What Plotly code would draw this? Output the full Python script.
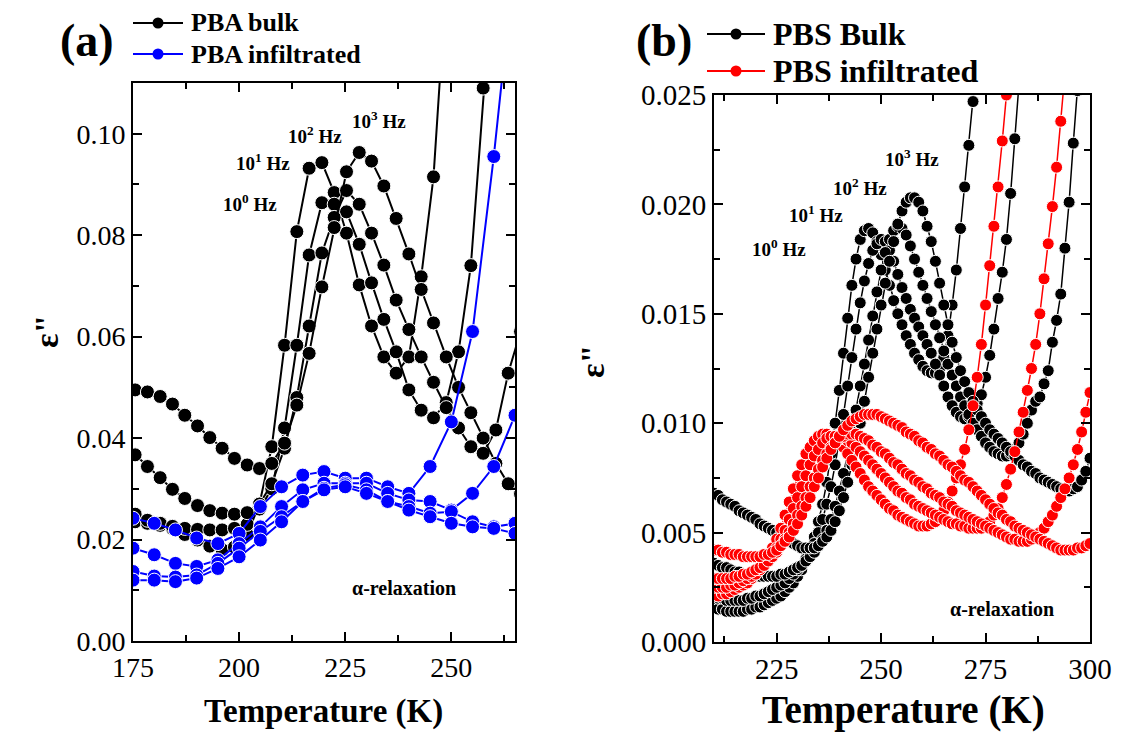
import plotly.graph_objects as go

# ---------------- Panel (a): PBA ----------------
T_a_bulk = [175.5, 178.4, 181.4, 184.3, 187.2, 190.2, 193.1, 196.0, 198.9, 201.9, 204.8, 207.7,
            210.7, 213.6, 216.5, 219.5, 222.4, 225.3, 228.3, 231.2, 234.1, 237.0, 240.0, 242.9,
            245.8, 248.8, 251.7, 254.6, 257.5, 260.5, 263.4, 266.3]
pba_bulk_1e0 = [0.0235, 0.0232, 0.0228, 0.0222, 0.0210, 0.0199, 0.0187, 0.0180, 0.0185, 0.0210, 0.0270, 0.0383,
                0.0583, 0.0807, 0.0932, 0.0943, 0.0884, 0.0804, 0.0702, 0.0621, 0.0560, 0.0528, 0.0560, 0.0718,
                0.0915, 0.1300]
pba_bulk_1e1 = [0.0250, 0.0238, 0.0232, 0.0226, 0.0222, 0.0220, 0.0219, 0.0219, 0.0222, 0.0230, 0.0260, 0.0300,
                0.0420, 0.0583, 0.0761, 0.0864, 0.0861, 0.0846, 0.0782, 0.0706, 0.0634, 0.0570, 0.0495, 0.0455,
                0.0440, 0.0470, 0.0570, 0.0740, 0.1090, 0.1400]
pba_bulk_1e2 = [0.0367, 0.0344, 0.0322, 0.0299, 0.0281, 0.0267, 0.0257, 0.0252, 0.0250, 0.0253, 0.0270, 0.0310,
                0.0380, 0.0480, 0.0621, 0.0765, 0.0835, 0.0888, 0.0861, 0.0804, 0.0741, 0.0672, 0.0614, 0.0560,
                0.0510, 0.0460, 0.0420, 0.0383, 0.0370, 0.0416, 0.0528, 0.0610]
pba_bulk_1e3 = [0.0495, 0.0491, 0.0482, 0.0467, 0.0445, 0.0424, 0.0401, 0.0380, 0.0360, 0.0347, 0.0340, 0.0350,
                0.0390, 0.0465, 0.0567, 0.0698, 0.0815, 0.0925, 0.0963, 0.0946, 0.0897, 0.0833, 0.0763, 0.0693,
                0.0627, 0.0560, 0.0500, 0.0450, 0.0400, 0.0350, 0.0310, 0.0290]

T_a_inf = [175, 180, 185, 190, 195, 200, 205, 210, 215, 220, 225, 230, 235, 240, 245, 250, 255, 260, 265]
pba_inf_1e0 = [0.0242, 0.0232, 0.0219, 0.0203, 0.0192, 0.0212, 0.0265, 0.0304, 0.0327, 0.0334, 0.0321, 0.0321,
               0.0304, 0.0291, 0.0344, 0.0432, 0.0610, 0.0955, 0.1350]
pba_inf_1e1 = [0.0183, 0.0170, 0.0153, 0.0147, 0.0160, 0.0192, 0.0225, 0.0265, 0.0298, 0.0311, 0.0311, 0.0311,
               0.0291, 0.0278, 0.0275, 0.0258, 0.0291, 0.0344, 0.0445]
pba_inf_1e2 = [0.0137, 0.0128, 0.0126, 0.0130, 0.0153, 0.0183, 0.0216, 0.0245, 0.0275, 0.0301, 0.0308, 0.0298,
               0.0275, 0.0265, 0.0252, 0.0255, 0.0235, 0.0225, 0.0232]
pba_inf_1e3 = [0.0120, 0.0120, 0.0117, 0.0124, 0.0143, 0.0166, 0.0199, 0.0235, 0.0275, 0.0298, 0.0304, 0.0291,
               0.0275, 0.0258, 0.0245, 0.0232, 0.0225, 0.0222, 0.0212]

# ---------------- Panel (b): PBS ----------------
T_b = [210, 211, 212, 213, 214, 215, 216, 217, 218, 219, 220, 221, 222, 223, 224, 225, 226, 227, 228, 229,
       230, 231, 232, 233, 234, 235, 236, 237, 238, 239, 240, 241, 242, 243, 244, 245, 246, 247, 248, 249,
       250, 251, 252, 253, 254, 255, 256, 257, 258, 259, 260, 261, 262, 263, 264, 265, 266, 267, 268, 269,
       270, 271, 272, 273, 274, 275, 276, 277, 278, 279, 280, 281, 282, 283, 284, 285, 286, 287, 288, 289,
       290, 291, 292, 293, 294, 295, 296, 297, 298, 299, 300]

pbs_bulk_1e0 = [0.0016, 0.0015, 0.0015, 0.0014, 0.0014, 0.0014, 0.0014, 0.0014, 0.0015, 0.0015,
                0.0016, 0.0016, 0.0017, 0.0018, 0.0019, 0.0020, 0.0021, 0.0023, 0.0025, 0.0027,
                0.0030, 0.0033, 0.0037, 0.0042, 0.0048, 0.0055, 0.0063, 0.0073, 0.0086, 0.0100,
                0.0115, 0.0132, 0.0148, 0.0163, 0.0175, 0.0184, 0.0188, 0.0189, 0.0187, 0.0183,
                0.0177, 0.0170, 0.0163, 0.0156, 0.0150, 0.0145, 0.0140, 0.0136, 0.0132, 0.0129,
                0.0126, 0.0124, 0.0123, 0.0123, 0.0125, 0.0130, 0.0140, 0.0154, 0.0170, 0.0189,
                0.0208, 0.0227, 0.0247, 0.0268]
pbs_bulk_1e1 = [0.0021, 0.0020, 0.0020, 0.0019, 0.0019, 0.0019, 0.0019, 0.0019, 0.0020, 0.0020,
                0.0021, 0.0021, 0.0022, 0.0023, 0.0024, 0.0025, 0.0026, 0.0027, 0.0029, 0.0031,
                0.0033, 0.0035, 0.0038, 0.0041, 0.0045, 0.0050, 0.0056, 0.0063, 0.0071, 0.0081,
                0.0092, 0.0104, 0.0117, 0.0130, 0.0143, 0.0155, 0.0165, 0.0173, 0.0179, 0.0182,
                0.0184, 0.0183, 0.0179, 0.0174, 0.0168, 0.0162, 0.0157, 0.0152, 0.0148, 0.0144,
                0.0140, 0.0136, 0.0132, 0.0127, 0.0122, 0.0117, 0.0112, 0.0108, 0.0105, 0.0103,
                0.0102, 0.0103, 0.0106, 0.0109, 0.0113, 0.0121, 0.0131, 0.0143, 0.0157, 0.0169,
                0.0184, 0.0205, 0.0230, 0.0255, 0.0280]
pbs_bulk_1e2 = [0.0036, 0.0035, 0.0034, 0.0034, 0.0033, 0.0032, 0.0032, 0.0031, 0.0031, 0.0030,
                0.0030, 0.0030, 0.0030, 0.0030, 0.0030, 0.0030, 0.0031, 0.0031, 0.0032, 0.0033,
                0.0034, 0.0035, 0.0037, 0.0039, 0.0041, 0.0044, 0.0047, 0.0051, 0.0056, 0.0062,
                0.0069, 0.0077, 0.0086, 0.0096, 0.0106, 0.0117, 0.0127, 0.0138, 0.0149, 0.0160,
                0.0170, 0.0178, 0.0184, 0.0188, 0.0190, 0.0189, 0.0186, 0.0181, 0.0175, 0.0169,
                0.0163, 0.0157, 0.0151, 0.0145, 0.0139, 0.0133, 0.0127, 0.0122, 0.0117, 0.0112,
                0.0108, 0.0104, 0.0100, 0.0097, 0.0094, 0.0091, 0.0089, 0.0087, 0.0086, 0.0085,
                0.0085, 0.0086, 0.0088, 0.0091, 0.0095, 0.0100, 0.0106, 0.0110, 0.0112, 0.0118,
                0.0124, 0.0137, 0.0147, 0.0159, 0.0180, 0.0201, 0.0228, 0.0252, 0.0278]
pbs_bulk_1e3 = [0.0068, 0.0067, 0.0065, 0.0064, 0.0063, 0.0062, 0.0060, 0.0059, 0.0058, 0.0057,
                0.0056, 0.0054, 0.0053, 0.0052, 0.0051, 0.0050, 0.0049, 0.0047, 0.0046, 0.0045,
                0.0044, 0.0043, 0.0043, 0.0043, 0.0043, 0.0044, 0.0046, 0.0048, 0.0051, 0.0055,
                0.0060, 0.0066, 0.0073, 0.0081, 0.0090, 0.0100, 0.0110, 0.0121, 0.0132, 0.0143,
                0.0154, 0.0164, 0.0174, 0.0183, 0.0191, 0.0197, 0.0201, 0.0203, 0.0203, 0.0201,
                0.0197, 0.0190, 0.0183, 0.0174, 0.0164, 0.0154, 0.0145, 0.0137, 0.0130, 0.0124,
                0.0119, 0.0114, 0.0110, 0.0106, 0.0103, 0.0100, 0.0097, 0.0095, 0.0093, 0.0091,
                0.0089, 0.0087, 0.0085, 0.0083, 0.0081, 0.0080, 0.0078, 0.0077, 0.0075, 0.0074,
                0.0073, 0.0072, 0.0071, 0.0070, 0.0069, 0.0069, 0.0070, 0.0071, 0.0074, 0.0078,
                0.0084]

pbs_inf_1e0 = [0.0021, 0.0021, 0.0022, 0.0022, 0.0023, 0.0024, 0.0025, 0.0026, 0.0027, 0.0029,
               0.0031, 0.0033, 0.0036, 0.0039, 0.0043, 0.0047, 0.0052, 0.0058, 0.0064, 0.0070,
               0.0076, 0.0081, 0.0086, 0.0089, 0.0092, 0.0094, 0.0095, 0.0095, 0.0094, 0.0093,
               0.0091, 0.0089, 0.0086, 0.0083, 0.0080, 0.0077, 0.0074, 0.0071, 0.0069, 0.0067,
               0.0065, 0.0063, 0.0061, 0.0060, 0.0058, 0.0057, 0.0056, 0.0055, 0.0054, 0.0053,
               0.0053, 0.0053, 0.0054, 0.0055, 0.0057, 0.0060, 0.0064, 0.0069, 0.0075, 0.0081,
               0.0088, 0.0097, 0.0108, 0.0121, 0.0136, 0.0154, 0.0172, 0.0190, 0.0208, 0.0229,
               0.0250, 0.0272]
pbs_inf_1e1 = [0.0025, 0.0025, 0.0025, 0.0025, 0.0026, 0.0026, 0.0027, 0.0028, 0.0029, 0.0030,
               0.0031, 0.0033, 0.0035, 0.0037, 0.0040, 0.0043, 0.0047, 0.0051, 0.0056, 0.0061,
               0.0066, 0.0071, 0.0076, 0.0081, 0.0085, 0.0088, 0.0091, 0.0093, 0.0094, 0.0094,
               0.0094, 0.0093, 0.0092, 0.0091, 0.0089, 0.0087, 0.0085, 0.0083, 0.0081, 0.0079,
               0.0077, 0.0075, 0.0073, 0.0071, 0.0069, 0.0068, 0.0066, 0.0065, 0.0063, 0.0062,
               0.0061, 0.0060, 0.0059, 0.0058, 0.0057, 0.0056, 0.0055, 0.0054, 0.0054, 0.0053,
               0.0053, 0.0052, 0.0052, 0.0052, 0.0052, 0.0053, 0.0055, 0.0058, 0.0061, 0.0066,
               0.0072, 0.0079, 0.0087, 0.0096, 0.0105, 0.0115, 0.0125, 0.0136, 0.0150, 0.0166,
               0.0182, 0.0199, 0.0217, 0.0238, 0.0260]
pbs_inf_1e2 = [0.0029, 0.0029, 0.0029, 0.0029, 0.0029, 0.0030, 0.0030, 0.0031, 0.0031, 0.0032,
               0.0033, 0.0034, 0.0035, 0.0037, 0.0039, 0.0041, 0.0044, 0.0047, 0.0050, 0.0054,
               0.0058, 0.0062, 0.0066, 0.0071, 0.0075, 0.0079, 0.0083, 0.0086, 0.0089, 0.0091,
               0.0093, 0.0094, 0.0095, 0.0095, 0.0095, 0.0094, 0.0093, 0.0092, 0.0090, 0.0089,
               0.0087, 0.0086, 0.0084, 0.0082, 0.0081, 0.0079, 0.0077, 0.0076, 0.0074, 0.0073,
               0.0071, 0.0070, 0.0068, 0.0067, 0.0066, 0.0064, 0.0063, 0.0062, 0.0060, 0.0059,
               0.0058, 0.0057, 0.0056, 0.0055, 0.0054, 0.0053, 0.0052, 0.0051, 0.0050, 0.0049,
               0.0048, 0.0047, 0.0047, 0.0046, 0.0046, 0.0046, 0.0047, 0.0048, 0.0050, 0.0052,
               0.0055, 0.0058, 0.0062, 0.0066, 0.0070, 0.0075, 0.0081, 0.0088, 0.0096, 0.0105,
               0.0114]
pbs_inf_1e3 = [0.0042, 0.0042, 0.0041, 0.0041, 0.0040, 0.0040, 0.0040, 0.0039, 0.0039, 0.0039,
               0.0039, 0.0039, 0.0040, 0.0040, 0.0041, 0.0042, 0.0044, 0.0046, 0.0048, 0.0051,
               0.0054, 0.0058, 0.0062, 0.0066, 0.0071, 0.0075, 0.0080, 0.0084, 0.0088, 0.0091,
               0.0094, 0.0097, 0.0099, 0.0101, 0.0102, 0.0103, 0.0104, 0.0104, 0.0104, 0.0104,
               0.0103, 0.0102, 0.0101, 0.0100, 0.0099, 0.0098, 0.0096, 0.0095, 0.0094, 0.0092,
               0.0091, 0.0089, 0.0088, 0.0086, 0.0085, 0.0083, 0.0081, 0.0080, 0.0078, 0.0076,
               0.0074, 0.0073, 0.0071, 0.0069, 0.0067, 0.0065, 0.0063, 0.0061, 0.0059, 0.0058,
               0.0056, 0.0055, 0.0053, 0.0052, 0.0051, 0.0050, 0.0049, 0.0048, 0.0047, 0.0046,
               0.0045, 0.0044, 0.0043, 0.0042, 0.0042, 0.0042, 0.0042, 0.0043, 0.0043, 0.0044,
               0.0045]

freq_labels = ["10<sup>0</sup> Hz", "10<sup>1</sup> Hz", "10<sup>2</sup> Hz", "10<sup>3</sup> Hz"]

FONT = "Liberation Serif, Times New Roman, serif"
# the page body has an 8 px margin; the figure is sized so the page fits the window exactly
OFF = 8
W, H = 1121 - 2 * OFF, 740 - 2 * OFF

fig = go.Figure()


def add(x, y, color, xa, ya, size, lw):
    fig.add_trace(go.Scatter(
        x=x[:len(y)], y=y, mode="lines+markers", xaxis=xa, yaxis=ya,
        line=dict(color=color, width=lw),
        marker=dict(symbol="circle", size=size, color=color, line=dict(color="white", width=1)),
        showlegend=False, cliponaxis=True, hoverinfo="skip"))


for s in [pba_bulk_1e0, pba_bulk_1e1, pba_bulk_1e2, pba_bulk_1e3]:
    add(T_a_bulk, s, "black", "x", "y", 14, 2)
for s in [pba_inf_1e0, pba_inf_1e1, pba_inf_1e2, pba_inf_1e3]:
    add(T_a_inf, s, "#0000ff", "x", "y", 14, 2)
for s in [pbs_bulk_1e0, pbs_bulk_1e1, pbs_bulk_1e2, pbs_bulk_1e3]:
    add(T_b, s, "black", "x2", "y2", 12, 1.5)
for s in [pbs_inf_1e0, pbs_inf_1e1, pbs_inf_1e2, pbs_inf_1e3]:
    add(T_b, s, "#ff0000", "x2", "y2", 12, 1.5)


def px_x(p):
    return (p - OFF) / W


def px_y(p):
    return 1 - (p - OFF) / H


def axis_common(fs):
    return dict(showgrid=False, zeroline=False, showline=True, linecolor="black", linewidth=2,
                mirror="allticks", ticks="inside", ticklen=9, tickwidth=2, tickcolor="black",
                automargin=False,
                tickfont=dict(family=FONT, size=fs, color="black"))


fig.update_layout(
    template="none",
    width=W, height=H, margin=dict(l=0, r=0, t=0, b=0, autoexpand=False),
    paper_bgcolor="white", plot_bgcolor="white", showlegend=False,
    xaxis=dict(domain=[px_x(133), px_x(515)], range=[175, 265], anchor="y",
               tickvals=[175, 200, 225, 250],
               minor=dict(tickvals=[187.5, 212.5, 237.5, 262.5], ticks="inside", ticklen=6,
                          tickwidth=2, tickcolor="black"),
               **axis_common(28)),
    yaxis=dict(domain=[px_y(641), px_y(83)], range=[0, 0.11], anchor="x",
               tickvals=[0, 0.02, 0.04, 0.06, 0.08, 0.10], tickformat=".2f",
               minor=dict(tickvals=[0.01, 0.03, 0.05, 0.07, 0.09], ticks="inside", ticklen=6,
                          tickwidth=2, tickcolor="black"),
               **axis_common(28)),
    xaxis2=dict(domain=[px_x(714), px_x(1090)], range=[210, 300], anchor="y2",
                tickvals=[225, 250, 275, 300],
                minor=dict(tickvals=[212.5, 237.5, 262.5, 287.5], ticks="inside", ticklen=6,
                           tickwidth=2, tickcolor="black"),
                **axis_common(29)),
    yaxis2=dict(domain=[px_y(642), px_y(95)], range=[0, 0.025], anchor="x2",
                tickvals=[0, 0.005, 0.010, 0.015, 0.020, 0.025], tickformat=".3f",
                minor=dict(tickvals=[0.0025, 0.0075, 0.0125, 0.0175, 0.0225], ticks="inside",
                           ticklen=6, tickwidth=2, tickcolor="black"),
                **axis_common(29)),
)

ann = []
shapes = []


def text(x, y, t, size, xanchor="center", angle=0):
    ann.append(dict(x=px_x(x), y=px_y(y), xref="paper", yref="paper", text=t, showarrow=False,
                    xanchor=xanchor, yanchor="middle", textangle=angle,
                    font=dict(family=FONT, size=size, color="black")))


# panel letters
text(87, 41, "<b>(a)</b>", 46)
text(664, 41, "<b>(b)</b>", 46)


# legends (drawn as line + circle + text)
def legend_item(x0, x1, y, color, label, size):
    shapes.append(dict(type="line", xref="paper", yref="paper", x0=px_x(x0), x1=px_x(x1),
                       y0=px_y(y), y1=px_y(y), line=dict(color=color, width=2)))
    xm = (x0 + x1) / 2
    shapes.append(dict(type="circle", xref="paper", yref="paper", xsizemode="pixel", ysizemode="pixel",
                       xanchor=px_x(xm), yanchor=px_y(y), x0=-5.5, x1=5.5, y0=-5.5, y1=5.5,
                       fillcolor=color, line=dict(color=color, width=0)))
    text(x1 + 6, y, "<b>" + label + "</b>", size, xanchor="left")


legend_item(133, 183, 23, "black", "PBA bulk", 26)
legend_item(133, 183, 54, "#0000ff", "PBA infiltrated", 26)
legend_item(707, 765, 34, "black", "PBS Bulk", 32)
legend_item(707, 765, 71, "#ff0000", "PBS infiltrated", 32)

# axis titles
text(323, 711, "<b>Temperature (K)</b>", 33)
text(903, 710, "<b>Temperature (K)</b>", 39)
text(46, 332, "<b>ε\"</b>", 34, angle=-90)
text(592, 362, "<b>ε\"</b>", 34, angle=-90)

# frequency labels panel (a)
text(250, 203, "<b>" + freq_labels[0] + "</b>", 19)
text(263, 162, "<b>" + freq_labels[1] + "</b>", 19)
text(315, 135, "<b>" + freq_labels[2] + "</b>", 19)
text(379, 120, "<b>" + freq_labels[3] + "</b>", 19)
text(404, 588, "<b>α-relaxation</b>", 20)

# frequency labels panel (b)
text(779, 248, "<b>" + freq_labels[0] + "</b>", 19)
text(816, 214, "<b>" + freq_labels[1] + "</b>", 19)
text(860, 187, "<b>" + freq_labels[2] + "</b>", 19)
text(912, 158, "<b>" + freq_labels[3] + "</b>", 19)
text(1002, 609, "<b>α-relaxation</b>", 20)

fig.update_layout(annotations=ann, shapes=shapes)
fig.write_html("out.html")
